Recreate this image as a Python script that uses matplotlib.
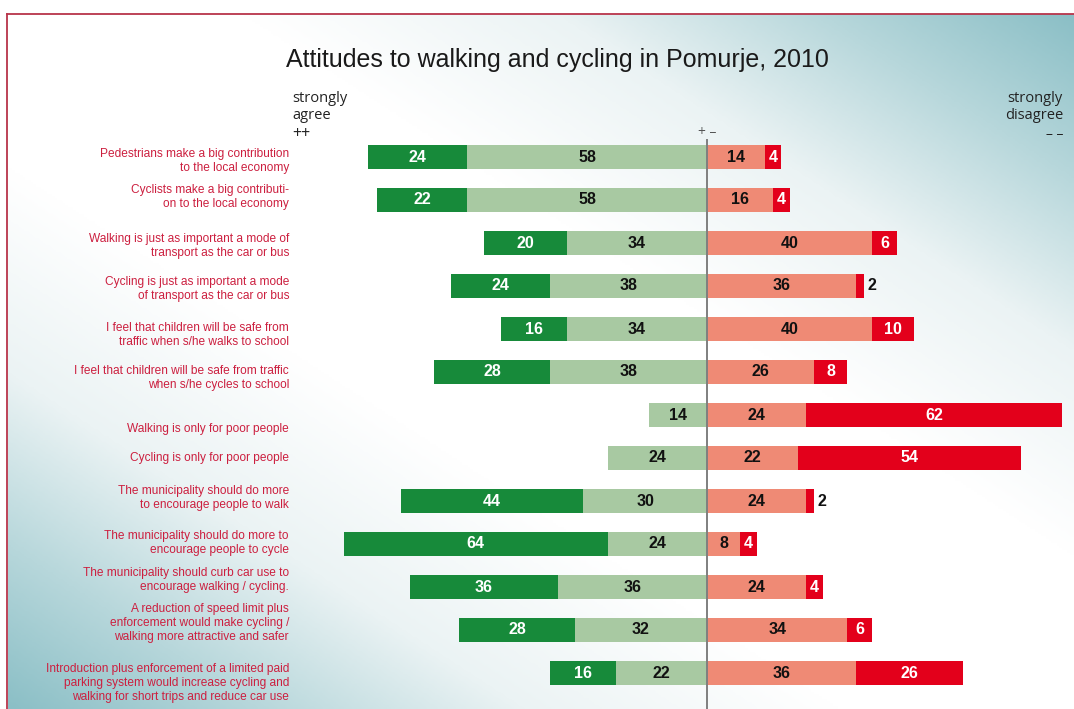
import numpy as np
import matplotlib
matplotlib.use("Agg")
import matplotlib.pyplot as plt
from matplotlib.colors import LinearSegmentedColormap

# survey statements (top to bottom)
statements = [
    "Pedestrians make a big contribution\nto the local economy",
    "Cyclists make a big contributi-\non to the local economy",
    "Walking is just as important a mode of\ntransport as the car or bus",
    "Cycling is just as important a mode\nof transport as the car or bus",
    "I feel that children will be safe from\ntraffic when s/he walks to school",
    "I feel that children will be safe from traffic\nwhen s/he cycles to school",
    "Walking is only for poor people",
    "Cycling is only for poor people",
    "The municipality should do more\nto encourage people to walk",
    "The municipality should do more to\nencourage people to cycle",
    "The municipality should curb car use to\nencourage walking / cycling.",
    "A reduction of speed limit plus\nenforcement would make cycling /\nwalking more attractive and safer",
    "Introduction plus enforcement of a limited paid\nparking system would increase cycling and\nwalking for short trips and reduce car use",
]
strongly_agree = [24, 22, 20, 24, 16, 28, 0, 0, 44, 64, 36, 28, 16]
agree = [58, 58, 34, 38, 34, 38, 14, 24, 30, 24, 36, 32, 22]
disagree = [14, 16, 40, 36, 40, 26, 24, 22, 24, 8, 24, 34, 36]
strongly_disagree = [4, 4, 6, 2, 10, 8, 62, 54, 2, 4, 4, 6, 26]

c_sa = "#178A3A"
c_a = "#A8C9A2"
c_d = "#EF8A75"
c_sd = "#E3001B"
c_label = "#CC1F3F"

W, H = 1074, 709
fig = plt.figure(figsize=(W / 100, H / 100), dpi=100)

# background gradient inside the frame
bg = fig.add_axes([8 / W, 0, 1 - 8 / W, 1 - 14 / H])
bg.set_axis_off()
u = np.linspace(0, 1, 400)[None, :]
v = np.linspace(1, 0, 300)[:, None]
s = np.abs(u + v - 1)
t = np.clip((s - 0.22) / 0.78, 0, 1)
cmap = LinearSegmentedColormap.from_list(
    "bgc", [(0, "#FFFFFF"), (0.38, "#EBF3F4"), (0.7, "#B7D7DB"), (1, "#8BBFC6")])
bg.imshow(t, cmap=cmap, aspect="auto", vmin=0, vmax=1, extent=[0, 1, 0, 1])
bg.set_xlim(0, 1)
bg.set_ylim(0, 1)

# red frame lines
fig.add_artist(plt.Line2D([7.5 / W, 1], [1 - 14 / H, 1 - 14 / H], color="#B8344A", lw=1.3))
fig.add_artist(plt.Line2D([7.5 / W, 7.5 / W], [0, 1 - 14 / H], color="#B8344A", lw=1.3))

# main chart axes: x=0 at pixel 707, 4.13 px per unit
px = 4.13
xmin, xmax = -90, 88
left_px = 707 + xmin * px
right_px = 707 + xmax * px
top_px = 157 - 43 * 0.5
bot_px = 157 + 43 * 12.5
ax = fig.add_axes([left_px / W, 1 - bot_px / H, (right_px - left_px) / W, (bot_px - top_px) / H])
ax.patch.set_alpha(0)
ax.set_xlim(xmin, xmax)
ax.set_ylim(12.5, -0.5)
ax.set_axis_off()

y = np.arange(len(statements))
sa = np.array(strongly_agree)
a = np.array(agree)
d = np.array(disagree)
sd = np.array(strongly_disagree)
h = 0.58

ax.barh(y, sa, left=-(sa + a), height=h, color=c_sa, lw=0)
ax.barh(y, a, left=-a, height=h, color=c_a, lw=0)
ax.barh(y, d, left=0, height=h, color=c_d, lw=0)
ax.barh(y, sd, left=d, height=h, color=c_sd, lw=0)
ax.plot([0, 0], [-0.4, 13], color="#7F7F7F", lw=1.4, clip_on=False)

vfont = dict(fontsize=11.5, fontweight="bold", family="Liberation Sans", va="center", ha="center")
for i in y:
    if sa[i] > 0:
        ax.text(-a[i] - sa[i] / 2, i, str(sa[i]), color="white", **vfont)
    if a[i] > 0:
        ax.text(-a[i] / 2, i, str(a[i]), color="#111111", **vfont)
    ax.text(d[i] / 2, i, str(d[i]), color="#111111", **vfont)
    if sd[i] > 2:
        ax.text(d[i] + sd[i] / 2, i, str(sd[i]), color="white", **vfont)
    else:
        ax.text(d[i] + sd[i] + 0.8, i, str(sd[i]), color="#111111",
                fontsize=11.5, fontweight="bold", family="Liberation Sans", va="center", ha="left")

# statement labels (small vertical nudges to match original layout, in px)
nudge = [4, -3, 3, 3, 6, 6, 14, 0, -3, -1, -7, -7, 10]
for i, txt in enumerate(statements):
    ypx = 157 + 43 * i + nudge[i]
    fig.text(289 / W, 1 - ypx / H, txt, ha="right", va="center", color=c_label,
             fontsize=8.6, family="Liberation Sans", linespacing=1.25)

fig.text(557 / W, 1 - 60 / H, "Attitudes to walking and cycling in Pomurje, 2010",
         ha="center", va="center", fontsize=18, family="Liberation Sans", color="#1A1A1A")
fig.text(292 / W, 1 - 107 / H, "strongly\nagree", ha="left", va="center",
         fontsize=10.5, family="Open Sans", color="#222222", linespacing=1.15)
fig.text(292 / W, 1 - 134 / H, "++", ha="left", va="center",
         fontsize=11.5, family="Open Sans", color="#222222")
fig.text(1063 / W, 1 - 107 / H, "strongly\ndisagree", ha="right", va="center",
         fontsize=10.5, family="Open Sans", color="#222222", linespacing=1.15, multialignment="right")
fig.text(1063 / W, 1 - 134 / H, "\u2013 \u2013", ha="right", va="center",
         fontsize=10, family="Open Sans", color="#222222")
fig.text(707 / W, 1 - 132 / H, "+ \u2013", ha="center", va="center",
         fontsize=10, family="Open Sans", color="#555555")

fig.savefig("out.png", dpi=100)
